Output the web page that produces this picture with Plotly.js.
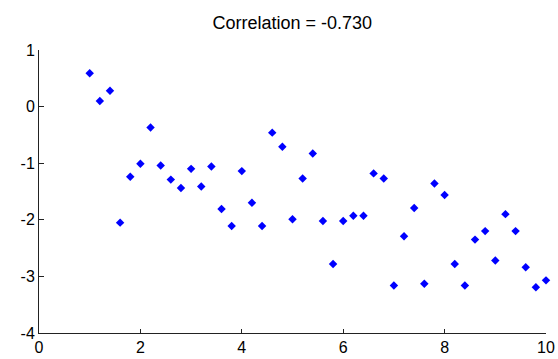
<!DOCTYPE html>
<html>
<head>
<meta charset="utf-8">
<script src="https://cdn.plot.ly/plotly-3.0.1.min.js"></script>
<style>html,body{margin:0;padding:0;background:#fff;}#chart{width:558px;height:359px;}</style>
</head>
<body>
<div id="chart"></div>
<script>
const xValues = [1.0,1.2,1.4,1.6,1.8,2.0,2.2,2.4,2.6,2.8,3.0,3.2,3.4,3.6,3.8,4.0,4.2,4.4,4.6,4.8,5.0,5.2,5.4,5.6,5.8,6.0,6.2,6.4,6.6,6.8,7.0,7.2,7.4,7.6,7.8,8.0,8.2,8.4,8.6,8.8,9.0,9.2,9.4,9.6,9.8,10.0];
const yValues = [0.59,0.10,0.28,-2.05,-1.24,-1.01,-0.37,-1.04,-1.29,-1.44,-1.10,-1.41,-1.06,-1.81,-2.11,-1.14,-1.70,-2.11,-0.46,-0.71,-1.99,-1.27,-0.83,-2.02,-2.78,-2.02,-1.93,-1.93,-1.18,-1.27,-3.16,-2.29,-1.79,-3.13,-1.36,-1.56,-2.78,-3.16,-2.35,-2.20,-2.72,-1.90,-2.20,-2.84,-3.19,-3.07];
const xTickVals = [0,2,4,6,8,10];
const xTickText = ['0','2','4','6','8','10'];
const yTickVals = [1,0,-1,-2,-3,-4];
const yTickText = ['1','0','-1','-2','-3','-4'];
const titleText = 'Correlation = -0.730';

const fontFam = 'Liberation Sans, Arial, sans-serif';
Plotly.newPlot('chart', [{
  x: xValues, y: yValues, type: 'scatter', mode: 'markers',
  marker: {symbol: 'diamond', size: 6.5, color: '#0000ff', line: {width: 0}},
  cliponaxis: false, hoverinfo: 'none'
}], {
  width: 558, height: 359,
  margin: {l: 39, r: 12, t: 50, b: 26, pad: 0},
  paper_bgcolor: '#fff', plot_bgcolor: '#fff',
  showlegend: false,
  title: {text: titleText, font: {family: fontFam, size: 18, color: '#000'}, x: 0.5237, xanchor: 'center', y: 0.938, yanchor: 'middle'},
  xaxis: {range: [0, 10], tickvals: xTickVals, ticktext: xTickText, ticks: 'inside', ticklen: 4, tickwidth: 1, tickcolor: '#222',
    showline: true, linecolor: '#222', linewidth: 1, showgrid: false, zeroline: false, mirror: false,
    tickfont: {family: fontFam, size: 16, color: '#000'}, fixedrange: true},
  yaxis: {range: [-4, 1], tickvals: yTickVals, ticktext: yTickText, ticks: 'inside', ticklen: 5, tickwidth: 1, tickcolor: '#222',
    showline: true, linecolor: '#222', linewidth: 1, showgrid: false, zeroline: false, mirror: false,
    tickfont: {family: fontFam, size: 16, color: '#000'}, fixedrange: true}
}, {displayModeBar: false, staticPlot: true});
</script>
</body>
</html>
